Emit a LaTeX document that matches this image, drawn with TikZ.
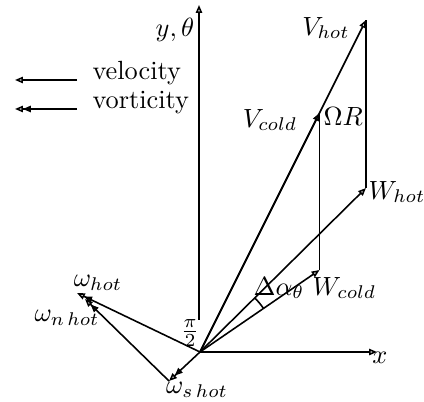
\documentclass[tikz,border=0pt]{standalone}
\usetikzlibrary{arrows.meta,calc}
\tikzset{
  x=0.38pt,y=0.38pt,
  vel/.style={line width=0.6pt,-{Triangle[open,length=3pt,width=2.4pt]}},
  vort/.style={line width=0.6pt,-{Triangle[open,length=3pt,width=2.4pt]Triangle[open,length=3pt,width=2.4pt]}},
  plain/.style={line width=0.6pt},
  lbl/.style={inner sep=0pt}
}
\begin{document}
\begin{tikzpicture}
\useasboundingbox (0,0) rectangle (424,402);
% points
\coordinate (O) at (200,50);
\coordinate (Yb) at (199,82);
\coordinate (Yt) at (199,397);
\coordinate (Xt) at (377,50);
\coordinate (Vh) at (366,382);
\coordinate (Wh) at (366,214);
\coordinate (Vc) at ($(O)!0.72!(Vh)$);
\coordinate (Wc) at (Vc |- 0,132);
\coordinate (wh) at (77,109);
\coordinate (ws) at (169,21);
\coordinate (wn) at (85,103);
% legend
\coordinate (L1a) at (77,322); \coordinate (L1b) at (15,322);
\coordinate (L2a) at (77,293); \coordinate (L2b) at (15,293);
\draw[vel] (L1a) -- (L1b);
\draw[vort] (L2a) -- (L2b);
\node[lbl,anchor=base west] (tv) at (92,322) {velocity};
\node[lbl,anchor=base west] (tw) at (92,293) {vorticity};
% axes
\draw[vel] (Yb) -- (Yt);
\draw[vel] (O) -- (Xt);
\node[lbl] (ly) at (175,372) {$y,\theta$};
\node[lbl] (lx) at (380,44) {$x$};
\node[lbl] (lpi) at (190,69) {$\frac{\pi}{2}$};
% velocity triangles
\draw[vel] (O) -- (Vh);
\draw[vel] (O) -- (Vc);
\draw[vel] (O) -- (Wh);
\draw[vel] (O) -- (Wc);
\draw[plain] (Wh) -- (Vh);
\draw[plain] (Wc) -- (Vc);
\draw[plain] ($(O)+(34.3:77)$) arc[start angle=34.3,end angle=44.7,radius=77];
\node[lbl] (lVh) at (326,374) {$V_{hot}$};
\node[lbl] (lVc) at (270,282) {$V_{cold}$};
\node[lbl,anchor=west] (lOR) at (323,285) {$\Omega R$};
\node[lbl,anchor=west] (lWh) at (368,210) {$W_{hot}$};
\node[lbl] (lda) at (279,114) {$\Delta\alpha_\theta$};
\node[lbl,anchor=west] (lWc) at (312,114) {$W_{cold}$};
% vorticity
\draw[vort] (O) -- (wh);
\draw[vort] (O) -- (ws);
\draw[vort] (ws) -- (wn);
\node[lbl] (lwh) at (98,119) {$\omega_{hot}$};
\node[lbl] (lwn) at (67,84) {$\omega_{n\,hot}$};
\node[lbl] (lws) at (197,12) {$\omega_{s\,hot}$};
\end{tikzpicture}
\end{document}
